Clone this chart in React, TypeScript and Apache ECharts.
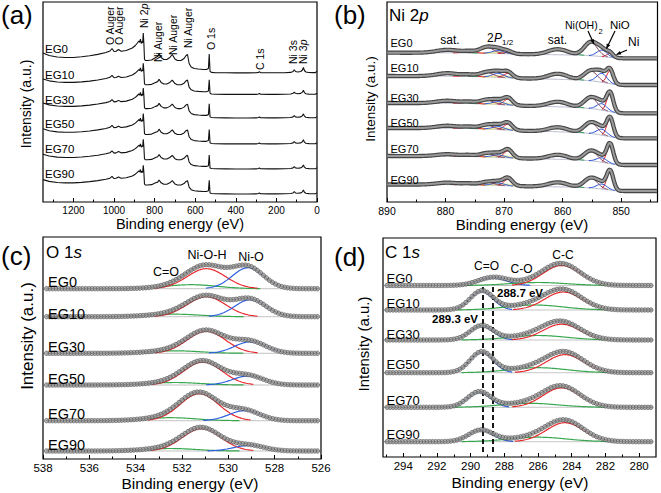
import React, { useEffect, useRef } from 'react';
import * as echarts from 'echarts';

const FONT = '"Liberation Sans", Arial, Helvetica, sans-serif';
const samples = ['EG0', 'EG10', 'EG30', 'EG50', 'EG70', 'EG90'];

// ---------- (a) survey ----------
const surveyE = [1350, 1320, 1280, 1240, 1200, 1160, 1120, 1080, 1040, 1020, 1010, 1000, 990, 978, 965, 940, 910, 895, 885, 878, 874, 870, 866, 862, 859, 856, 853, 850, 846, 835, 815, 795, 785, 778, 768, 755, 740, 725, 713, 700, 688, 670, 655, 645, 638, 630, 620, 605, 585, 560, 545, 535, 531, 527, 520, 500, 450, 400, 340, 300, 288, 284, 278, 240, 200, 160, 130, 118, 112, 106, 95, 80, 72, 67, 62, 55, 40, 20, 8, 3, 0];
const surveyI = [20, 17.5, 16, 15.5, 15.5, 16.2, 17.2, 18.6, 20.5, 22, 24.5, 21.5, 21.8, 23.5, 21.8, 22.5, 25, 27.5, 30, 32, 30.5, 34, 29.5, 31.5, 30, 40, 30, 14, 12.5, 12.5, 13, 15.5, 16.5, 19.5, 15.5, 13.5, 13.5, 15.5, 18.5, 14, 12.5, 12.5, 14.5, 17.5, 18.5, 9.5, 6, 4.5, 4, 3.5, 3.5, 4.5, 19, 1.5, 0.6, 0.3, 0.2, 0.1, 0.1, 0.2, 0.6, 1.4, 0.3, 0.2, 0.2, 0.3, 0.6, 1.5, 3.2, 1.5, 1, 1.5, 3, 5.5, 2.5, 1, 0.5, 0.4, 0.4, 1.2, 1.8];
const surveyBase = [129, 107.5, 84, 58, 33, 8];
const surveyScale = [1, 0.78, 0.75, 0.76, 0.74, 0.72];
const aMajor = [0, 200, 400, 600, 800, 1000, 1200];
const aMinor = [100, 300, 500, 700, 900, 1100, 1300];

// ---------- (b) Ni 2p ----------
const niCenters = [851.9, 853.3, 855.2, 860.8, 869.3, 871.0, 873.0, 876.0, 879.6, 870.3];
const niFwhm = [1.3, 2.0, 2.6, 4.0, 1.7, 2.3, 2.8, 2.4, 4.5, 3.2];
const niColors = ['#e41f23', '#2452d6', '#84405f', '#2fa457', '#e41f23', '#2452d6', '#84405f', '#e41f23', '#2fa457', '#eee6a0'];
const niHeights = [
  [4, 6.5, 13.5, 5.5, 1.5, 3, 6, 1.5, 3, 1.5],
  [13, 9, 10, 5.5, 4.5, 4, 4.5, 1.5, 3, 1.5],
  [18.5, 6.5, 11, 5, 6, 3, 4, 1.5, 2.5, 1.5],
  [18.5, 6, 11, 4.5, 6, 3, 4, 1.5, 2.5, 1.5],
  [19.5, 4.5, 10, 4.5, 7, 2.5, 3.5, 1.2, 2, 1.5],
  [19, 5, 10, 4.5, 6.5, 2.5, 3, 1.2, 2, 1.5],
];
const niBase = [143.7, 117, 88.7, 63.7, 37, 11];
const niStep = [5.6, 9, 10.3, 10.3, 9, 6.5];
const niBgE = [843.8, 849.5, 851.0, 852.5, 854.5, 856.5, 860, 865, 868, 870, 873, 876, 880, 890];
const niBgF = [0, 0, 0.05, 0.22, 0.42, 0.53, 0.62, 0.7, 0.75, 0.82, 0.9, 0.95, 0.98, 1.0];
const bMajor = [850, 860, 870, 880, 890];
const bMinor = [845, 855, 865, 875, 885];

// ---------- (c) O 1s ----------
const oColors = ['#37a84f', '#e8262a', '#2b5fdf'];
const oCenters = [
  [531.6, 530.95, 529.15],
  [532.3, 530.95, 529.05],
  [532.3, 530.95, 529.05],
  [532.3, 531.1, 529.15],
  [532.5, 531.25, 529.3],
  [532.5, 531.15, 529.1],
];
const oFwhm = [2.6, 1.95, 1.6];
const oHeights = [
  [4, 20, 21],
  [2.5, 20, 17],
  [2.5, 22, 11.5],
  [2.5, 23, 9],
  [3, 27, 10],
  [2.5, 22.5, 5.5],
];
const oBase = [170.3, 142.3, 105.7, 74, 38.3, 8];
const cMajor = [526, 528, 530, 532, 534, 536, 538];
const cMinor = [527, 529, 531, 533, 535, 537];

// ---------- (d) C 1s ----------
const cColors = ['#2b5fdf', '#37a84f', '#e8262a'];
const c1sCenters = [
  [288.7, 286.0, 284.6],
  [289.35, 286.2, 284.5],
  [289.35, 286.0, 284.6],
  [289.35, 286.0, 284.4],
  [289.5, 286.5, 284.6],
  [289.4, 286.0, 284.4],
];
const c1sFwhm = [
  [2.0, 4.0, 2.6],
  [1.6, 4.0, 2.6],
  [1.6, 4.0, 2.6],
  [1.6, 4.0, 2.6],
  [1.6, 4.0, 2.6],
  [1.7, 4.0, 2.6],
];
const c1sHeights = [
  [7.5, 3, 20],
  [18.5, 5, 18],
  [14, 4.5, 15.8],
  [20.5, 5, 18],
  [15, 4, 19.5],
  [11.3, 4.5, 19],
];
const c1sBase = [171.5, 147, 117, 84.3, 49.7, 15.3];
const dDashE = [289.3, 288.7];
const dDashY = [5, 170];
const dMajor = [280, 282, 284, 286, 288, 290, 292, 294];
const dMinor = [281, 283, 285, 287, 289, 291, 293, 295];

function gauss(x: number, c: number, fwhm: number, h: number) {
  const s = fwhm / 2.3548;
  return h * Math.exp(-0.5 * ((x - c) / s) ** 2);
}
function interp(xs: number[], ys: number[], x: number) {
  if (x <= xs[0]) return ys[0];
  for (let i = 1; i < xs.length; i++) {
    if (x <= xs[i]) {
      const t = (x - xs[i - 1]) / (xs[i] - xs[i - 1]);
      return ys[i - 1] + t * (ys[i] - ys[i - 1]);
    }
  }
  return ys[ys.length - 1];
}
function grid(a: number, b: number, step: number) {
  const out: number[] = [];
  for (let x = a; x <= b + 1e-9; x += step) out.push(+x.toFixed(3));
  return out;
}

function buildOption() {
  const series: any[] = [];
  const line = (xi: number, yi: number, data: any[], color: string, width: number, z: number, extra: any = {}) =>
    series.push({ type: 'line', xAxisIndex: xi, yAxisIndex: yi, data, showSymbol: false, symbol: 'none', lineStyle: { color, width }, z, silent: true, animation: false, ...extra });
  const beads = (xi: number, yi: number, data: any[]) =>
    series.push({ type: 'scatter', xAxisIndex: xi, yAxisIndex: yi, data, symbol: 'circle', symbolSize: 4.4, itemStyle: { color: '#a3a3a3', borderColor: '#3e3e3e', borderWidth: 0.7 }, z: 8, silent: true, animation: false });

  // (a)
  samples.forEach((_, i) => {
    line(0, 0, surveyE.map((e, j) => [e, surveyBase[i] + surveyScale[i] * surveyI[j]]), '#111', 1.1, 5);
  });

  // (b)
  const bE = grid(843.9, 890, 0.2);
  samples.forEach((_, i) => {
    const bg = (e: number) => niBase[i] + niStep[i] * interp(niBgE, niBgF, e);
    line(2, 1, bE.map((e) => [e, bg(e)]), '#b5b9cc', 1, 2);
    niCenters.forEach((c, k) => {
      const s = niFwhm[k] / 2.3548;
      const pts = bE.filter((e) => Math.abs(e - c) < 2.7 * s).map((e) => [e, bg(e) + gauss(e, c, niFwhm[k], niHeights[i][k])]);
      line(2, 1, pts, niColors[k], k === 9 ? 2 : 1, k === 9 ? 2 : 3);
    });
    const env = bE.map((e) => [e, bg(e) + niCenters.reduce((acc, c, k) => acc + gauss(e, c, niFwhm[k], niHeights[i][k]), 0)]);
    line(2, 1, env, '#464646', 4.3, 6);
    line(2, 1, env, '#9a9a9a', 2, 7);
  });

  // (c)
  const oE = grid(526.1, 537.9, 0.06);
  const oEb = grid(526.15, 537.85, 0.13);
  samples.forEach((_, i) => {
    const b = oBase[i];
    line(4, 2, oE.map((e) => [e, b]), '#bdbdbd', 1, 2);
    oColors.forEach((col, k) => {
      const c = oCenters[i][k];
      const s = oFwhm[k] / 2.3548;
      const pts = oE.filter((e) => Math.abs(e - c) < 2.7 * s).map((e) => [e, b + gauss(e, c, oFwhm[k], oHeights[i][k])]);
      line(4, 2, pts, col, 1.2, 3);
    });
    const f = (e: number) => b + oColors.reduce((acc, _c, k) => acc + gauss(e, oCenters[i][k], oFwhm[k], oHeights[i][k]), 0);
    line(4, 2, oE.map((e) => [e, f(e)]), '#3a3a3a', 1.2, 6);
    beads(4, 2, oEb.map((e) => [e, f(e)]));
  });

  // (d)
  const dE = grid(279.2, 295.1, 0.06);
  const dEb = grid(279.3, 295.0, 0.18);
  samples.forEach((_, i) => {
    const b = c1sBase[i];
    const extra: any = {};
    if (i === 5) {
      extra.markLine = {
        silent: true,
        symbol: ['none', 'none'],
        label: { show: false },
        lineStyle: { color: '#000', type: [5, 3], width: 1.8 },
        data: dDashE.map((e) => [{ coord: [e, dDashY[0]] }, { coord: [e, dDashY[1]] }]),
      };
    }
    line(6, 3, dE.map((e) => [e, b]), '#bdbdbd', 1, 2, extra);
    cColors.forEach((col, k) => {
      const c = c1sCenters[i][k];
      const fw = c1sFwhm[i][k];
      const s = fw / 2.3548;
      const pts = dE.filter((e) => Math.abs(e - c) < 2.7 * s).map((e) => [e, b + gauss(e, c, fw, c1sHeights[i][k])]);
      line(6, 3, pts, col, 1.2, 3);
    });
    const f = (e: number) => b + cColors.reduce((acc, _c, k) => acc + gauss(e, c1sCenters[i][k], c1sFwhm[i][k], c1sHeights[i][k]), 0);
    line(6, 3, dE.map((e) => [e, f(e)]), '#3a3a3a', 1.2, 6);
    beads(6, 3, dEb.map((e) => [e, f(e)]));
  });

  const xAx = (g: number, min: number, max: number, major: number[], minor: number[], fs: number, margin: number) => [
    {
      gridIndex: g, type: 'value', inverse: true, min, max, position: 'bottom',
      axisLine: { show: false }, splitLine: { show: false },
      axisTick: { show: true, inside: true, length: 4, customValues: major, lineStyle: { color: '#000', width: 1 } },
      axisLabel: { show: true, customValues: major, fontSize: fs, color: '#000', fontFamily: FONT, margin, formatter: (v: number) => String(v) },
    },
    {
      gridIndex: g, type: 'value', inverse: true, min, max, position: 'bottom',
      axisLine: { show: false }, splitLine: { show: false },
      axisTick: { show: true, inside: true, length: 2.5, customValues: minor, lineStyle: { color: '#000', width: 1 } },
      axisLabel: { show: false },
    },
  ];
  const yAx = (g: number, max: number) => ({ gridIndex: g, type: 'value', min: 0, max, show: false });
  const gridBox = (left: number, top: number, width: number, height: number) => ({ left, top, width, height, show: true, borderColor: '#000', borderWidth: 1.2, backgroundColor: 'transparent' });

  const T = (x: number, y: number, text: string, size: number, o: any = {}) => ({
    type: 'text', x, y, rotation: o.rot || 0, silent: true, z: 100,
    style: {
      text, fill: '#000', fontSize: size, fontFamily: FONT,
      fontWeight: o.bold ? 'bold' : 'normal', fontStyle: o.italic ? 'italic' : 'normal',
      align: o.align || 'left', textAlign: o.align || 'left',
      verticalAlign: 'middle', textVerticalAlign: 'middle',
      rich: o.rich,
    },
  });
  const it = (size: number) => ({ i: { fontStyle: 'italic', fontSize: size, fontFamily: FONT, fill: '#000' } });
  const arrow = (x1: number, y1: number, x2: number, y2: number) => {
    const dx = x2 - x1, dy = y2 - y1;
    const L = Math.sqrt(dx * dx + dy * dy);
    const ux = dx / L, uy = dy / L;
    const bx = x2 - ux * 4.5, by = y2 - uy * 4.5;
    return [
      { type: 'line', silent: true, z: 100, shape: { x1, y1, x2, y2 }, style: { stroke: '#000', lineWidth: 1.2 } },
      { type: 'polygon', silent: true, z: 100, shape: { points: [[x2, y2], [bx - uy * 2, by + ux * 2], [bx + uy * 2, by - ux * 2]] }, style: { fill: '#000' } },
    ];
  };

  const rot = Math.PI / 2;
  const graphics: any[] = [
    T(1, 15, '(a)', 26), T(334, 15, '(b)', 26), T(1, 256, '(c)', 26), T(334, 257, '(d)', 26),
    T(389, 15, 'Ni 2{i|p}', 17, { rich: it(17) }),
    T(46, 252, 'O 1{i|s}', 17, { rich: it(17) }),
    T(385, 252, 'C 1{i|s}', 17, { rich: it(17) }),
    // axis names
    T(26, 104, 'Intensity (a.u.)', 14, { rot, align: 'center' }),
    T(370, 99, 'Intensity (a.u.)', 13.5, { rot, align: 'center' }),
    T(27, 336, 'Intensity (a.u.)', 17, { rot, align: 'center' }),
    T(363, 344, 'Intensity (a.u.)', 15, { rot, align: 'center' }),
    T(180, 224, 'Binding energy (eV)', 14.5, { align: 'center' }),
    T(522, 224, 'Binding energy (eV)', 15, { align: 'center' }),
    T(190, 483, 'Binding energy (eV)', 15.5, { align: 'center' }),
    T(520, 482.5, 'Binding energy (eV)', 15.5, { align: 'center' }),
    // (a) peak annotations
    T(110, 45, 'O Auger', 10.5, { rot }),
    T(118.5, 45, 'O Auger', 10.5, { rot }),
    T(143.5, 28, 'Ni 2{i|p}', 10.5, { rot, rich: it(10.5) }),
    T(158, 62, 'Ni Auger', 10.5, { rot }),
    T(173, 55, 'Ni Auger', 10.5, { rot }),
    T(187.5, 48, 'Ni Auger', 10.5, { rot }),
    T(210.5, 50, 'O 1s', 10.5, { rot }),
    T(260, 70, 'C 1s', 10.5, { rot }),
    T(293, 64, 'Ni 3s', 10.5, { rot }),
    T(303, 64, 'Ni 3{i|p}', 10.5, { rot, rich: it(10.5) }),
    // (b) annotations
    T(450, 40, 'sat.', 12, { align: 'center' }),
    T(557.5, 39.5, 'sat.', 12, { align: 'center' }),
    T(487, 38, '2', 12),
    T(494, 38, 'P', 12, { italic: true }),
    T(502, 42, '1/2', 8),
    T(565, 25, 'Ni(OH)', 10.5),
    T(598.5, 31, '2', 7.5),
    T(610, 25, 'NiO', 11.5),
    T(628, 42, 'Ni', 12),
    ...arrow(588, 31, 594, 44),
    ...arrow(615, 31, 606.5, 48.5),
    ...arrow(627, 50, 616.5, 54.5),
    // (c) annotations
    T(166, 271.5, 'C=O', 12.5, { align: 'center' }),
    T(207, 255, 'Ni-O-H', 12.5, { align: 'center' }),
    T(251, 256.5, 'Ni-O', 12.5, { align: 'center' }),
    // (d) annotations
    T(486.5, 265.5, 'C=O', 12, { align: 'center' }),
    T(521.5, 268.5, 'C-O', 12, { align: 'center' }),
    T(563, 255, 'C-C', 12, { align: 'center' }),
    T(497, 293, '288.7 eV', 11.5, { bold: true }),
    T(432, 319, '289.3 eV', 11.5, { bold: true }),
  ];
  const aLab = [48.5, 75, 100, 124, 148.5, 173.5];
  const bLab = [42.7, 68.3, 97.7, 123.3, 149.3, 180];
  const cLab = [282, 313.5, 347, 378.5, 413.5, 444.5];
  const dLab = [278.3, 303.3, 334.3, 364.3, 400, 434.3];
  samples.forEach((s, i) => {
    graphics.push(T(45, aLab[i], s, 11.5));
    graphics.push(T(390.5, bLab[i], s, 11));
    graphics.push(T(48, cLab[i], s, 14.5));
    graphics.push(T(386.5, dLab[i], s, 13));
  });

  return {
    animation: false,
    backgroundColor: '#fff',
    grid: [gridBox(43, 2, 274, 200), gridBox(387, 2, 270.5, 200), gridBox(43, 237, 278, 222), gridBox(383, 238, 273, 219)],
    xAxis: [
      ...xAx(0, 0, 1350, aMajor, aMinor, 10, 3),
      ...xAx(1, 843.8, 890, bMajor, bMinor, 10.5, 3),
      ...xAx(2, 526, 538, cMajor, cMinor, 11.5, 2.5),
      ...xAx(3, 279, 295.2, dMajor, dMinor, 11.5, 3),
    ],
    yAxis: [yAx(0, 200), yAx(1, 200), yAx(2, 222), yAx(3, 219)],
    graphic: graphics,
    series,
  };
}

export default function App() {
  const ref = useRef<HTMLDivElement>(null);
  useEffect(() => {
    if (!ref.current) return;
    const chart = echarts.init(ref.current, undefined, { renderer: 'svg' });
    chart.setOption(buildOption() as any);
    return () => chart.dispose();
  }, []);
  return <div ref={ref} style={{ position: 'absolute', left: 0, top: 0, width: 661, height: 493 }} />;
}
